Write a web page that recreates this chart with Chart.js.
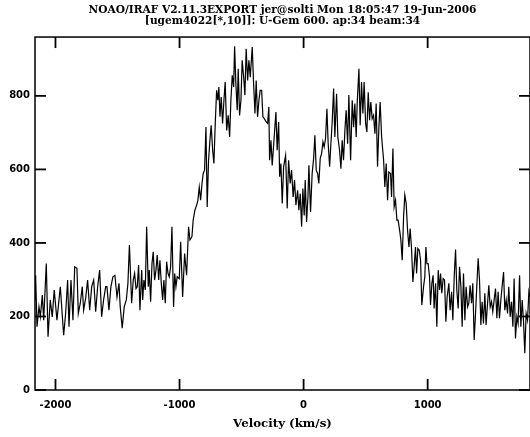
<!DOCTYPE html>
<html><head><meta charset="utf-8">
<script src="https://cdn.jsdelivr.net/npm/chart.js@4"></script>
<style>html,body{margin:0;padding:0;background:#fff}canvas{display:block}</style>
</head><body>
<canvas id="c" width="530" height="437"></canvas>
<script>
const titleLines = ['NOAO/IRAF V2.11.3EXPORT jer@solti Mon 18:05:47 19-Jun-2006',
                    '[ugem4022[*,10]]: U-Gem 600. ap:34 beam:34'];
const xAxisTitle = 'Velocity (km/s)';
const xTicks = [-2000, -1000, 0, 1000];
const yTicks = [0, 200, 400, 600, 800];
const xRange = [-2165, 1825];
const yRange = [0, 960];

const velocity = [
 -2165,-2160,-2149,-2133,-2122,-2106,-2095,-2074,-2060,-2042,
 -2026,-2010,-1988,-1961,-1934,-1918,-1902,-1891,-1875,-1859,
 -1845,-1827,-1816,-1800,-1784,-1773,-1757,-1741,-1724,-1708,
 -1692,-1676,-1660,-1644,-1628,-1612,-1595,-1585,-1569,-1553,
 -1537,-1521,-1504,-1488,-1478,-1462,-1446,-1429,-1416,-1404,
 -1386,-1373,-1362,-1351,-1341,-1330,-1319,-1305,-1297,-1287,
 -1276,-1265,-1252,-1244,-1233,-1222,-1212,-1201,-1190,-1180,
 -1168,-1158,-1147,-1136,-1126,-1115,-1104,-1093,-1083,-1072,
 -1061,-1048,-1039,-1029,-1019,-1002,-991,-975,-959,-943,
 -927,-916,-900,-890,-876,-862,-852,-841,-830,-819,
 -809,-798,-787,-777,-766,-755,-745,-733,-723,-712,
 -701,-691,-683,-674,-664,-653,-642,-632,
 -620,-608,-596,-586,-575,-564,-556,-546,-535,-527,
 -516,-505,-495,-483,-473,-463,-451,-441,-430,-414,
 -403,-392,-382,-371,-360,-350,-338,-328,-317,-301,
 -290,-280,-274,-263,-253,-237,-223,-213,-201,-193,
 -183,-172,-161,-145,-132,-121,-108,-97,-84,-73,
 -62,-48,-38,-27,-16,-6,5,13,24,35,
 43,56,69,81,91,102,113,123,134,145,
 156,166,177,188,198,
 210,220,230,242,252,266,276,290,301,311,
 322,333,343,355,365,379,392,403,413,424,
 432,446,456,467,478,488,500,510,521,532,
 542,553,564,575,585,596,607,617,629,645,
 655,666,677,687,701,709,720,730,741,752,
 762,776,784,795,806,816,827,838,849,859,
 870,881,891,902,911,921,932,943,953,967,
 977,986,
 994,1004,1015,1023,1034,1044,1052,1064,1074,1085,
 1096,1104,1114,1125,1136,1147,1157,1171,1181,1193,
 1203,1214,1225,1235,1246,1257,1268,1278,1289,1300,
 1310,1322,1332,1342,1354,1364,1375,1386,1396,1407,
 1418,1429,1439,1450,1461,1471,1483,1493,1504,1515,
 1525,1536,1547,1558,1568,1579,1590,1600,1612,1622,
 1633,1644,1654,1665,1676,1687,1697,1708,1719,1729,
 1741,1751,1762,1773,1783,1794,1805,1816,1824
];

const flux = [
 245,312,172,226,199,258,190,344,145,245,
 199,272,190,281,149,208,299,172,299,190,
 335,331,208,236,281,217,249,299,217,281,
 299,213,281,326,199,245,281,281,217,281,
 308,312,253,290,226,168,226,245,290,394,
 236,299,317,276,281,340,217,326,245,299,
 272,444,281,326,240,344,376,299,326,367,
 299,353,290,245,299,236,349,317,308,335,
 444,226,317,281,308,303,403,253,371,312,
 444,408,417,462,489,503,516,552,516,562,
 589,598,715,498,625,679,720,652,616,725,
 815,788,824,743,797,725,788,838,
 706,747,688,788,856,824,935,833,761,874,
 747,788,897,851,802,928,842,897,851,933,
 833,752,842,743,788,815,815,743,738,729,
 725,770,625,679,611,688,756,652,729,580,
 616,507,607,638,494,625,562,598,525,571,
 503,543,489,534,444,548,475,571,457,525,
 611,484,589,630,693,598,589,562,630,643,
 675,661,684,765,671,
 607,670,725,820,688,806,688,652,602,679,
 625,706,761,670,802,625,788,715,779,688,
 779,874,720,838,752,838,725,702,810,734,
 783,738,747,697,779,607,715,783,688,625,
 552,616,516,593,589,525,657,498,516,462,
 462,430,408,353,471,530,507,435,389,439,
 385,294,335,389,317,385,380,353,231,281,
 308,389,
 344,344,308,231,290,312,222,290,172,326,
 272,317,263,303,299,186,253,290,217,267,
 190,308,382,272,222,335,281,172,317,190,
 281,226,236,285,236,290,136,208,281,358,
 299,177,240,181,263,177,236,285,226,240,
 213,245,276,195,267,195,245,281,321,217,
 245,208,281,199,240,172,303,140,199,181,
 312,172,245,186,100,208,190,267,253
];

const serifBold = {family: "'DejaVu Serif', serif", weight: 'bold', size: 10.6};
const sansBold = {family: "'DejaVu Sans', sans-serif", weight: 'bold', size: 10};

const frame = {
  id: 'frame',
  afterDraw(chart) {
    const {ctx, chartArea: a, scales: {x, y}} = chart;
    ctx.save();
    ctx.strokeStyle = '#000';
    ctx.lineWidth = 1.5;
    ctx.strokeRect(a.left, a.top, a.right - a.left, a.bottom - a.top);
    ctx.lineWidth = 1.8;
    const seg = (x1, y1, x2, y2) => { ctx.beginPath(); ctx.moveTo(x1, y1); ctx.lineTo(x2, y2); ctx.stroke(); };
    xTicks.forEach(v => {
      const px = x.getPixelForValue(v);
      seg(px, a.bottom, px, a.bottom - 11);
      seg(px, a.top, px, a.top + 11);
    });
    yTicks.forEach(v => {
      const py = y.getPixelForValue(v);
      seg(a.left, py, a.left + 11, py);
      seg(a.right, py, a.right - 11, py);
    });
    ctx.restore();
  }
};

new Chart(document.getElementById('c').getContext('2d'), {
  type: 'line',
  data: {
    datasets: [{
      data: velocity.map((v, i) => ({x: v, y: flux[i]})),
      borderColor: '#000',
      borderWidth: 1.2,
      pointRadius: 0,
      tension: 0,
      fill: false
    }]
  },
  options: {
    responsive: false,
    animation: false,
    devicePixelRatio: 1,
    layout: {padding: 0},
    plugins: {
      legend: {display: false},
      tooltip: {enabled: false},
      title: {
        display: true, text: titleLines, fullSize: false, color: '#000',
        font: Object.assign({}, serifBold, {lineHeight: 1.04}),
        padding: {top: 5, bottom: 10}
      }
    },
    scales: {
      x: {
        type: 'linear', min: xRange[0], max: xRange[1],
        afterBuildTicks: s => { s.ticks = xTicks.map(v => ({value: v})); },
        afterFit: s => { s.height = 47; },
        grid: {display: false, drawTicks: false},
        border: {display: false},
        ticks: {callback: v => String(v), color: '#000', font: sansBold, padding: 9, maxRotation: 0, autoSkip: false},
        title: {display: true, text: xAxisTitle, color: '#000', font: Object.assign({}, serifBold, {size: 11.8, lineHeight: 1.2}), padding: {top: 0, bottom: 5.5}}
      },
      y: {
        type: 'linear', min: yRange[0], max: yRange[1],
        afterBuildTicks: s => { s.ticks = yTicks.map(v => ({value: v})); },
        afterFit: s => { s.width = 35; },
        grid: {display: false, drawTicks: false},
        border: {display: false},
        ticks: {callback: v => String(v), color: '#000', font: sansBold, padding: 5, autoSkip: false}
      }
    }
  },
  plugins: [frame]
});
</script>
</body></html>
